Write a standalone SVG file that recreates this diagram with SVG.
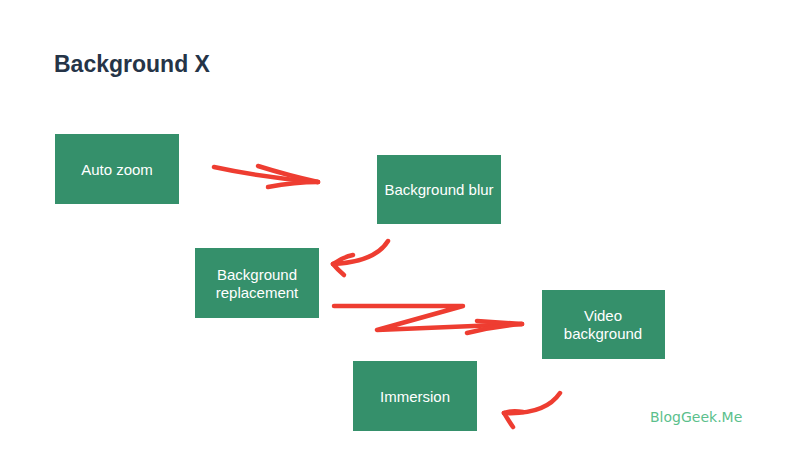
<svg xmlns="http://www.w3.org/2000/svg" width="800" height="450" viewBox="0 0 800 450">
<style>
.box{fill:#35906b;}
.lbl{font-family:"Liberation Sans",Arial,sans-serif;font-size:15px;fill:#ffffff;text-anchor:middle;}
.title{font-family:"Liberation Sans",Arial,sans-serif;font-size:23px;font-weight:bold;fill:#253447;}
.arr{fill:none;stroke:#ee3d31;stroke-width:4.5;stroke-linecap:round;stroke-linejoin:round;}
.logo{font-family:"DejaVu Sans",sans-serif;font-size:14px;fill:#5bbf8c;}
</style>
<rect width="800" height="450" fill="#ffffff"/>
<text class="title" x="54" y="72">Background X</text>
<g id="auto-zoom"><rect class="box" x="55" y="134" width="124" height="70"/><text class="lbl" x="117" y="175">Auto zoom</text></g>
<g id="background-blur"><rect class="box" x="377" y="155" width="124" height="69"/><text class="lbl" x="439" y="195">Background blur</text></g>
<g id="background-replacement"><rect class="box" x="195" y="248" width="124" height="70"/><text class="lbl" x="257" y="280">Background</text><text class="lbl" x="257" y="298">replacement</text></g>
<g id="video-background"><rect class="box" x="542" y="290" width="123" height="69"/><text class="lbl" x="603" y="321">Video</text><text class="lbl" x="603" y="339">background</text></g>
<g id="immersion"><rect class="box" x="353" y="361" width="124" height="70"/><text class="lbl" x="415" y="402">Immersion</text></g>
<g id="connectors">
<path class="arr" d="M214,167 Q265,178 318,182"/>
<path class="arr" d="M258,166 Q290,176 318,182"/>
<path class="arr" d="M268,187 Q295,182 318,182" stroke-width="6"/>
<path class="arr" d="M388,241 Q375,262 333,264"/>
<path class="arr" d="M333,264 Q343,257 353,255"/>
<path class="arr" d="M333,264 Q338,270 344,275"/>
<path class="arr" d="M334,306 L463,306 L377,330 L522,324"/>
<path class="arr" d="M477,321 L522,324"/>
<path class="arr" d="M467,333 Q495,326 522,324"/>
<path class="arr" d="M560,393 Q545,415 504,413"/>
<path class="arr" d="M504,413 Q512,410 523,412"/>
<path class="arr" d="M504,413 Q508,420 513,427"/>
</g>
<text class="logo" x="650" y="422">BlogGeek.Me</text>
</svg>
